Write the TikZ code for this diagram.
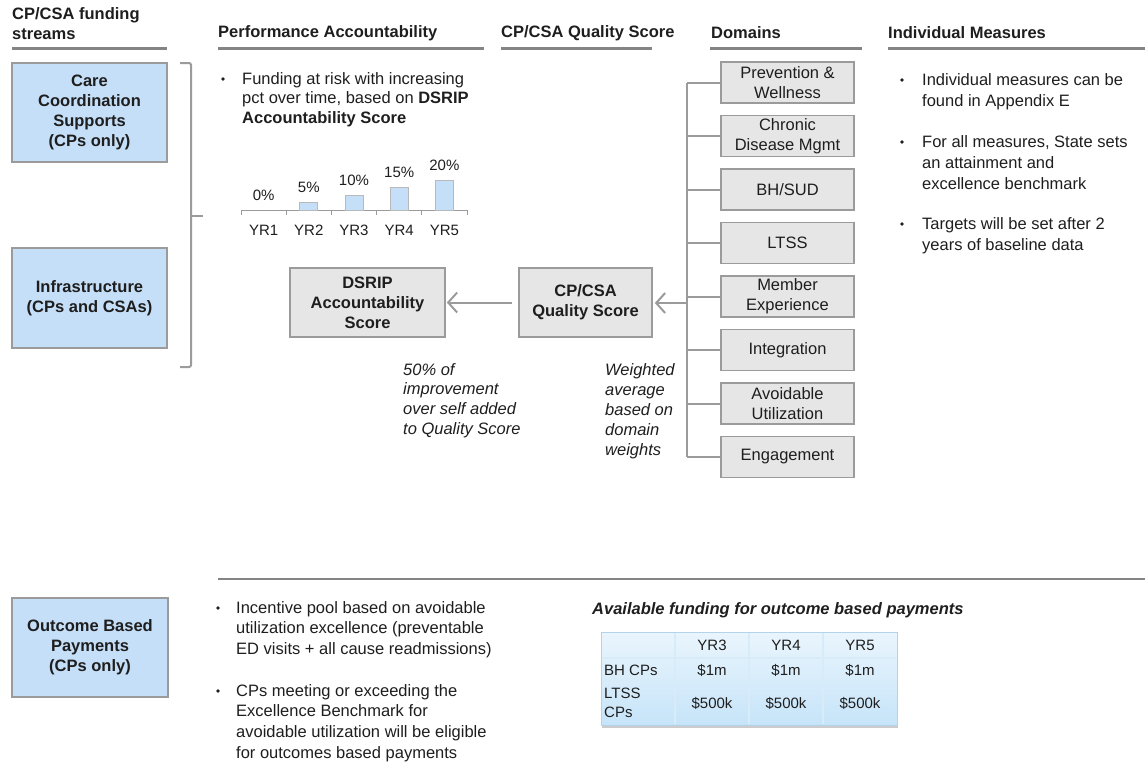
\documentclass[tikz,border=0pt]{standalone}
\usepackage{fontspec}
\setmainfont{Liberation Sans}
\usepackage{xcolor}
\usetikzlibrary{arrows.meta,positioning,shadows}
\definecolor{boxblue}{HTML}{C6DFF8}
\definecolor{boxgray}{HTML}{E6E6E6}
\definecolor{linegray}{HTML}{9B9B9B}
\definecolor{textdark}{HTML}{1E1E1E}
\definecolor{tabtop}{HTML}{EAF5FD}
\definecolor{tabbot}{HTML}{C6E4F9}
\definecolor{tabline}{HTML}{D8EBF9}
\definecolor{tabedge}{HTML}{B3D3EC}

\begin{document}
\begin{tikzpicture}[x=1pt,y=-1pt,
  every node/.style={text=textdark,font=\fontsize{16.5}{20}\selectfont},
  head/.style={anchor=west,inner sep=0pt,font=\fontsize{16.5}{20}\selectfont\bfseries},
  headline/.style={draw=linegray!85!black,line width=3pt},
  streambox/.style={draw=linegray,line width=1.6pt,fill=boxblue,minimum width=155pt,minimum height=99pt,
    align=center,font=\fontsize{16.5}{20}\selectfont\bfseries},
  scorebox/.style={draw=linegray,line width=1.6pt,fill=boxgray,minimum height=69pt,
    align=center,font=\fontsize{16.5}{20}\selectfont\bfseries},
  domainbox/.style={draw=linegray,line width=1.6pt,fill=boxgray,minimum width=133pt,minimum height=41pt,
    align=center,inner sep=1pt},
  textblock/.style={anchor=north west,inner sep=0pt,align=left},
  dot/.style={circle,fill=textdark,inner sep=0pt,minimum size=3.6pt},
  connector/.style={draw=linegray,line width=2pt},
  scorearrow/.style={connector,-{Straight Barb[length=9pt,width=20pt,line width=2pt]}},
  bar/.style={draw=linegray!70,line width=1pt,fill=boxblue},
  small/.style={font=\fontsize{15}{19}\selectfont},
]
\useasboundingbox (0,0) rectangle (1145,761);

% column headers
\node[textblock,font=\fontsize{16.5}{20}\selectfont\bfseries] (hstreams) at (12,7) {CP/CSA funding\\streams};
\node[head] (hperf) at (218,33) {Performance Accountability};
\node[head] (hqual) at (501,33) {CP/CSA Quality Score};
\node[head] (hdom) at (711,33) {Domains};
\node[head] (hmeas) at (888,33) {Individual Measures};
\draw[headline] (12,48) -- (167,48);
\draw[headline] (218,48) -- (484,48);
\draw[headline] (501,48) -- (652,48);
\draw[headline] (710,48) -- (862,48);
\draw[headline] (888,48) -- (1145,48);

% funding streams
\node[streambox] (care) at (89.5,112.5) {Care\\Coordination\\Supports\\(CPs only)};
\node[streambox,minimum height=100pt] (infra) at (89.5,298) {Infrastructure\\(CPs and CSAs)};
\draw[connector,rounded corners=2pt] (180,63) -- (191,63) -- (191,367) -- (180,367);
\draw[connector] (191,216) -- (203,216);

% performance accountability
\node[dot] (b1) at (223,79) {};
\node[textblock,font=\fontsize{16.5}{19.5}\selectfont] (fundtxt) at (242,72)
  {Funding at risk with increasing\\pct over time, based on \textbf{DSRIP}\\\textbf{Accountability Score}};

% bar chart
\draw[draw=linegray,line width=1pt] (241,210) -- (467,210);
\foreach \t in {0,...,5}
  \draw[draw=linegray,line width=1pt] (241+45.2*\t,210) -- ++(0,5);
\foreach \p [count=\i] in {0,5,10,15,20} {
  \pgfmathsetmacro{\cx}{263.6+45.2*(\i-1)}
  \ifnum\p>0
    \draw[bar] (\cx-9,210) rectangle (\cx+9,210-1.5*\p);
  \fi
  \node[small] (pct\i) at (\cx,210-1.5*\p-15) {\p\%};
  \node[small] (yr\i) at (\cx,230) {YR\i};
}

% scores
\node[scorebox,minimum width=155pt] (dsrip) at (367.5,302.5) {DSRIP\\Accountability\\Score};
\node[scorebox,minimum width=133pt] (quality) at (585.5,302.5) {CP/CSA\\Quality Score};
\draw[scorearrow,shorten <=6pt,shorten >=1pt] (quality.west) -- (dsrip.east);
\node[textblock,font=\fontsize{16.5}{19.7}\selectfont\itshape] (improve) at (403,363)
  {50\% of\\improvement\\over self added\\to Quality Score};
\node[textblock,font=\fontsize{16.5}{20}\selectfont\itshape] (weighted) at (605,363)
  {Weighted\\average\\based on\\domain\\weights};

% domains
\coordinate (trunk) at (687,82.5);
\foreach \d [count=\i] in {{Prevention \&\\Wellness},{Chronic\\Disease Mgmt},{BH/SUD},{LTSS},
    {Member\\Experience},{Integration},{Avoidable\\Utilization},{Engagement}} {
  \node[domainbox] (dom\i) at (787.5,82.5+53.5*\i-53.5) {\d};
  \draw[connector] (dom\i.west) -- (dom\i.west -| trunk);
}
\draw[connector] (trunk) -- (dom8.west -| trunk);
\coordinate (join) at (687,303);
\draw[scorearrow,shorten >=2pt] (join) -- (quality.east |- join);

% individual measures
\node[dot] (m1) at (902,80) {};
\node[textblock,font=\fontsize{16.5}{21}\selectfont] (meas1) at (922,73) {Individual measures can be\\found in Appendix E};
\node[dot] (m2) at (902,142) {};
\node[textblock,font=\fontsize{16.5}{21}\selectfont] (meas2) at (922,135) {For all measures, State sets\\an attainment and\\excellence benchmark};
\node[dot] (m3) at (902,224) {};
\node[textblock,font=\fontsize{16.5}{21}\selectfont] (meas3) at (922,217) {Targets will be set after 2\\years of baseline data};

% outcome based payments
\draw[headline,line width=2pt] (218,579) -- (1145,579);
\node[streambox,minimum width=156pt] (outcome) at (90,647.5) {Outcome Based\\Payments\\(CPs only)};
\node[dot] (o1) at (218,608) {};
\node[textblock,font=\fontsize{16.5}{20.7}\selectfont] (out1) at (236,601)
  {Incentive pool based on avoidable\\utilization excellence (preventable\\ED visits + all cause readmissions)};
\node[dot] (o2) at (218,691) {};
\node[textblock,font=\fontsize{16.5}{20.7}\selectfont] (out2) at (236,684)
  {CPs meeting or exceeding the\\Excellence Benchmark for\\avoidable utilization will be eligible\\for outcomes based payments};

% funding table
\node[head,font=\fontsize{16.5}{20}\selectfont\bfseries\itshape] (avail) at (592,610) {Available funding for outcome based payments};
\path[drop shadow={opacity=0.4,shadow xshift=1pt,shadow yshift=-2.5pt},
  top color=tabtop,bottom color=tabbot,draw=tabedge,line width=1pt] (601,632) rectangle (897,725);
\foreach \cx in {675,749,823}
  \draw[draw=tabline,line width=1.5pt] (\cx,633) -- (\cx,724);
\foreach \cy in {658,682}
  \draw[draw=tabline,line width=1.5pt] (602,\cy) -- (896,\cy);
\foreach \yr [count=\i] in {3,4,5} {
  \node[small] (tyr\i) at (712+74*\i-74,645) {YR\yr};
  \node[small] (tbh\i) at (712+74*\i-74,670) {\$1m};
  \node[small] (tlt\i) at (712+74*\i-74,703) {\$500k};
}
\node[small,anchor=west,inner sep=0pt] (tbh) at (604,670) {BH CPs};
\node[small,anchor=west,inner sep=0pt,align=left] (tlt) at (604,703) {LTSS\\CPs};
\end{tikzpicture}
\end{document}
